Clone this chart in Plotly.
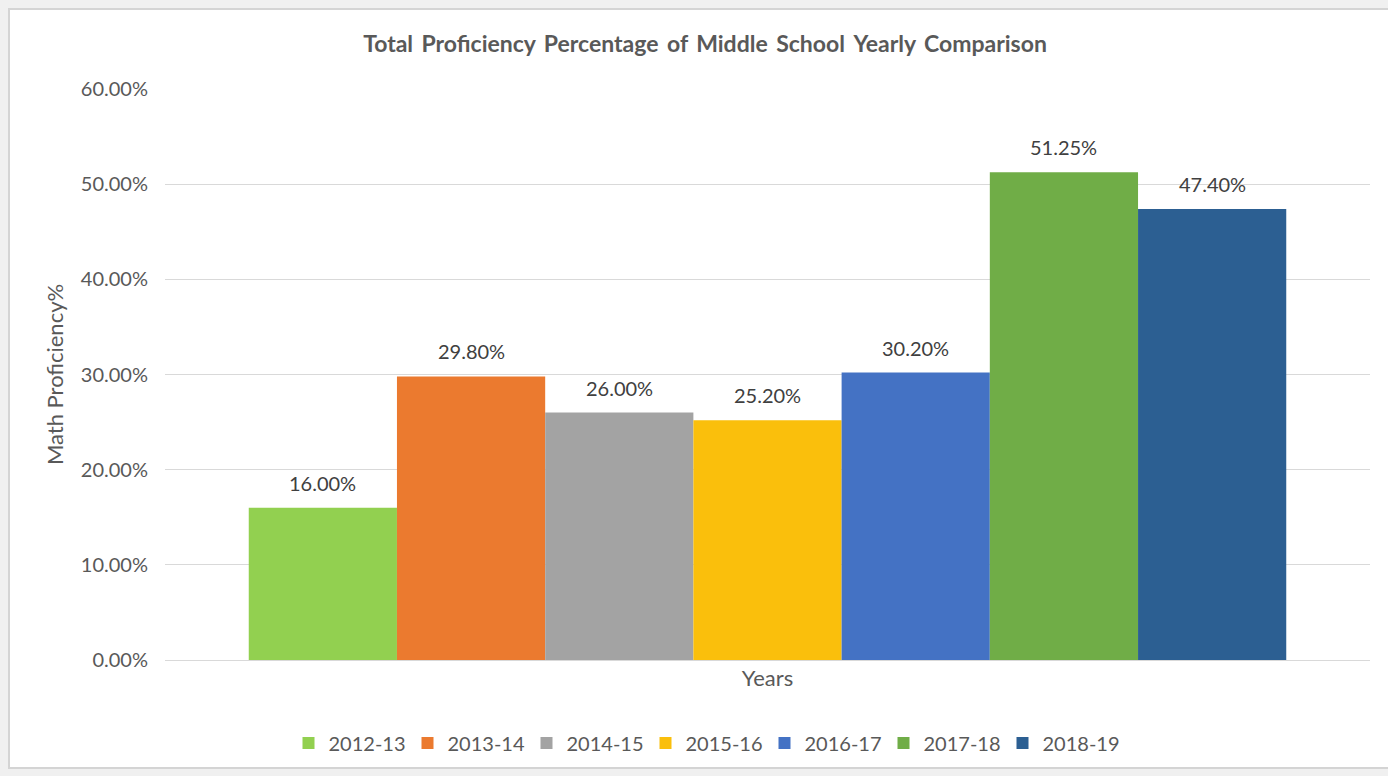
import plotly.graph_objects as go

# data
years = ['2012-13', '2013-14', '2014-15', '2015-16', '2016-17', '2017-18', '2018-19']
proficiency = [0.16, 0.298, 0.26, 0.252, 0.302, 0.5125, 0.474]
bar_colors = ['#92D050', '#EB7A2F', '#A3A3A3', '#FABF0C', '#4472C4', '#70AD47', '#2C5F92']
y_ticks = [0, 0.1, 0.2, 0.3, 0.4, 0.5, 0.6]

FONT = 'Lato'
TXT = '#595959'
BARGAP = 0.139

fig = go.Figure()
for i, (name, val, col) in enumerate(zip(years, proficiency, bar_colors)):
    fig.add_trace(go.Bar(
        x=[i], y=[val], name=name, width=1,
        marker=dict(color=col, line=dict(width=0)),
        hovertemplate=name + ': %{y:.2%}<extra></extra>',
    ))

W, H = 1388, 776
L, R, T, B = 165, 18, 89, 116
pw, ph = W - L - R, H - T - B

def px(x):  # pixel -> paper x
    return (x - L) / pw

def py(y):  # pixel -> paper y
    return (H - B - y) / ph

# empty room either side of the bar group, in bar widths
side = (len(years) * BARGAP / (1 - BARGAP)) / 2

title_txt = ' \u2009'.join('Total Proficiency Percentage of Middle School Yearly Comparison'.split())

fig.update_layout(
    width=W, height=H,
    margin=dict(l=L, r=R, t=T, b=B),
    paper_bgcolor='#f0f0f0',
    plot_bgcolor='white',
    font=dict(family=FONT, size=20, color=TXT),
    title=dict(
        text=f'<b>{title_txt}</b>',
        x=705 / W, xanchor='center', y=1 - 44 / H, yanchor='middle',
        font=dict(family=FONT, size=23, color=TXT),
    ),
    showlegend=True,
    legend=dict(
        orientation='h', x=px(705), xanchor='center', y=py(743), yanchor='middle',
        font=dict(family=FONT, size=20, color=TXT),
        entrywidth=74, entrywidthmode='pixels', itemwidth=30,
        bgcolor='rgba(0,0,0,0)',
    ),
    xaxis=dict(
        range=[-0.5 - side, len(years) - 0.5 + side],
        showticklabels=False, showgrid=False, zeroline=False, showline=False,
        title=dict(text='Years', standoff=10, font=dict(family=FONT, size=22, color=TXT)),
    ),
    yaxis=dict(
        range=[0, 0.6], tickvals=y_ticks, tickformat='.2%',
        showgrid=True, gridcolor='#d9d9d9', gridwidth=1,
        zeroline=True, zerolinecolor='#d9d9d9', zerolinewidth=1,
        showline=False, ticks='', ticklabelstandoff=16,
        tickfont=dict(family=FONT, size=20, color=TXT),
        title=dict(text='Math Proficiency%', standoff=11, font=dict(family=FONT, size=22, color=TXT)),
    ),
    annotations=[dict(
        x=i, y=val, xref='x', yref='y', text=f'{val:.2%}', showarrow=False,
        yanchor='middle', yshift=25,
        font=dict(family=FONT, size=20, color='#404040'),
    ) for i, val in enumerate(proficiency)],
    shapes=[dict(
        type='rect', xref='paper', yref='paper', layer='below',
        x0=px(9), x1=px(W + 60), y0=py(768), y1=py(9),
        fillcolor='white', line=dict(color='#d4d4d4', width=2),
    )],
)

fig.write_html('out.html', config={'displayModeBar': False},
               post_script="document.body.style.margin = '0';")
